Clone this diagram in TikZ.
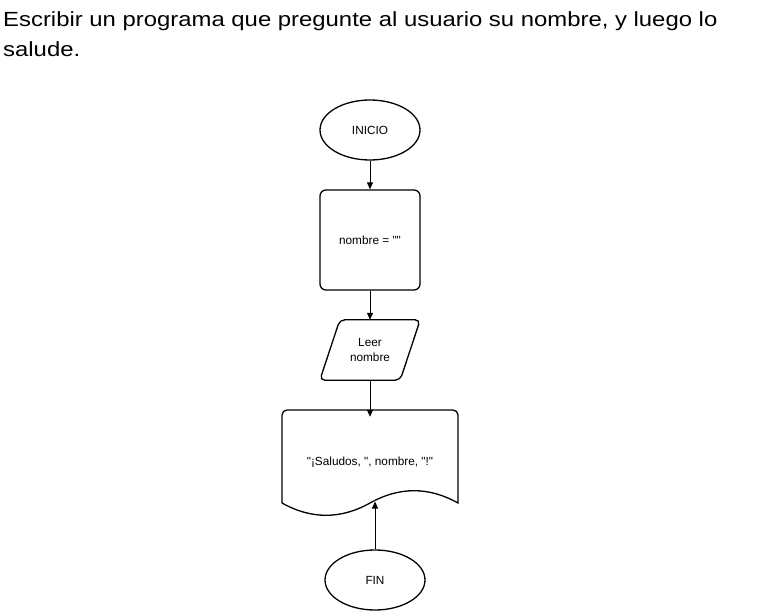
\documentclass[tikz,border=0pt]{standalone}
\usepackage{fontspec}
\setmainfont{Liberation Sans}[Ligatures=TeXOff]
\newfontfamily\titlefamily[FakeStretch=1.165,Ligatures=TeXOff]{Liberation Sans}
\usetikzlibrary{shapes.geometric,arrows.meta}
\tikzset{
  shape line/.style={draw=black, line width=1.3pt},
  label font/.style={font=\fontsize{11.8}{15}\selectfont},
  title font/.style={anchor=base west, inner sep=0, font=\titlefamily\fontsize{20.5}{29}\selectfont},
  flow/.style={draw=black, line width=1pt, -{Triangle[length=7pt,width=6pt]}},
}
\begin{document}
\begin{tikzpicture}[x=1pt,y=-1pt]
\useasboundingbox[fill=white] (0,0) rectangle (781,612);
% title
\node[title font] (title1) at (3,27) {Escribir un programa que pregunte al usuario su nombre, y luego lo};
\node[title font] (title2) at (3,57) {salude.};
% INICIO
\node[ellipse, shape line, minimum width=100pt, minimum height=60pt, inner sep=0, label font] (inicio) at (370,130) {INICIO};
% nombre = ""
\node[rectangle, rounded corners=6pt, shape line, minimum width=100pt, minimum height=100pt, inner sep=0, label font] (asig) at (370,240) {nombre = ""};
% Leer nombre (parallelogram)
\node[minimum width=100pt, minimum height=60pt, inner sep=0, align=center, label font] (leer) at (370,350) {Leer\\nombre};
\draw[shape line, rounded corners=5pt] ([xshift=20pt]leer.north west) -- (leer.north east) -- ([xshift=-20pt]leer.south east) -- (leer.south west) -- cycle;
% document
\node[minimum width=176pt, minimum height=90pt, inner sep=0, label font] (doc) at (370,462) {"¡Saludos, ", nombre, "!"};
\coordinate (docbot) at (375,501.5);
\draw[shape line, rounded corners=5pt] (282,503) -- (282,410) -- (458,410) [sharp corners] -- (458,503)
  .. controls (428.7,486.6) and (399.3,486.6) .. (370,503)
  .. controls (340.7,519.4) and (311.3,519.4) .. (282,503);
% FIN
\node[ellipse, shape line, minimum width=100pt, minimum height=60pt, inner sep=0, label font] (fin) at (375,580) {FIN};
% connectors
\draw[flow] (inicio.south) -- (asig.north);
\draw[flow] (asig.south) -- (leer.north);
\draw[flow] (leer.south) -- (doc.north);
\draw[flow] (fin.north) -- (docbot);
\end{tikzpicture}
\end{document}
